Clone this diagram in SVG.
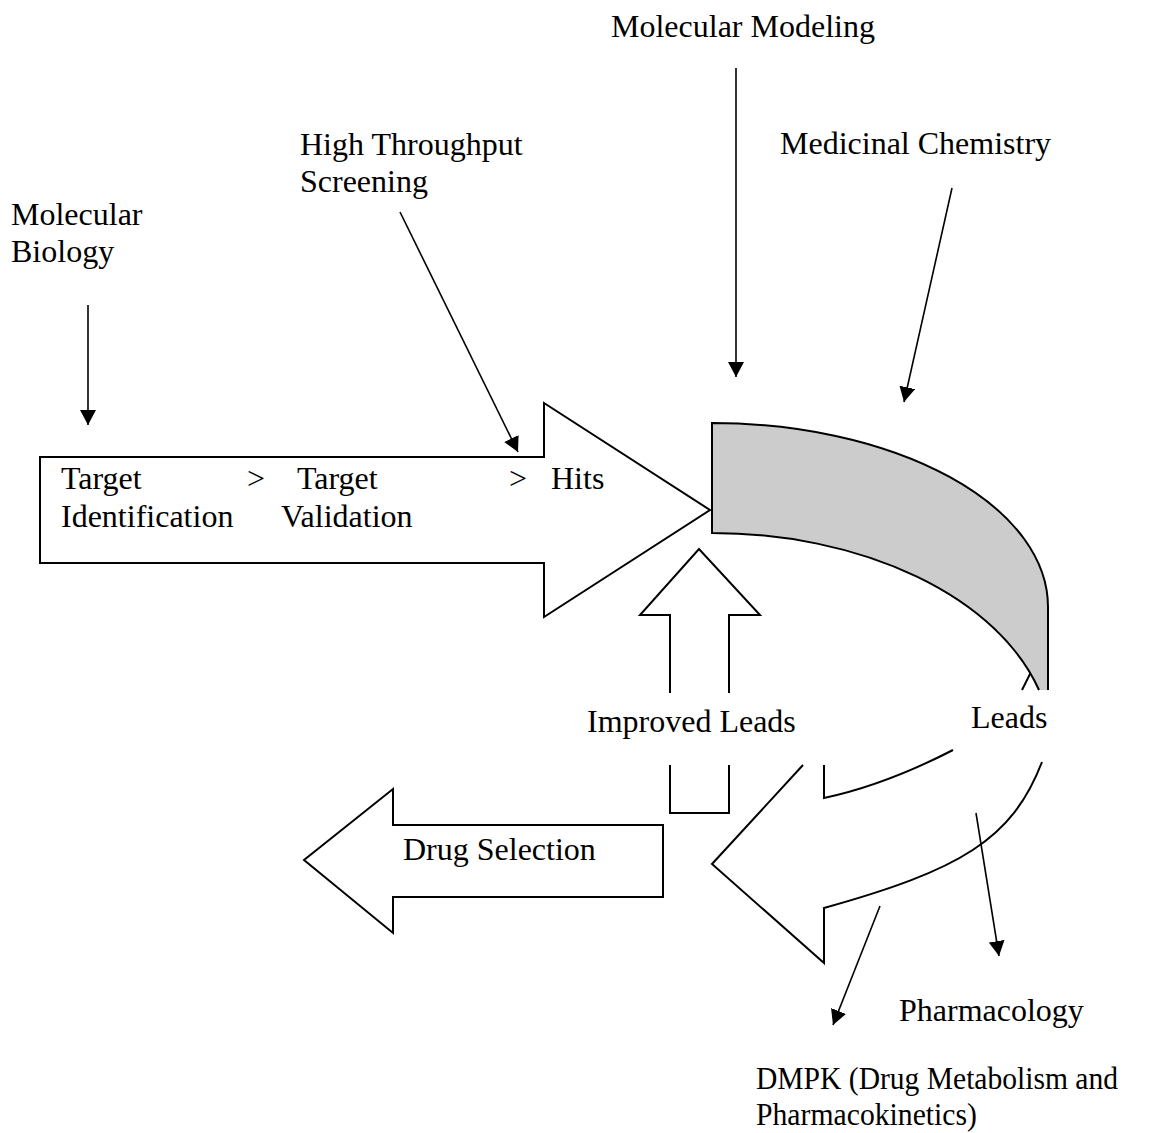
<svg xmlns="http://www.w3.org/2000/svg" width="1154" height="1133" viewBox="0 0 1154 1133">
<defs>
<style>
.t{font-family:"Liberation Serif","Times New Roman",serif;font-size:32px;fill:#000}
.s{fill:#fff;stroke:#000;stroke-width:2;stroke-linejoin:miter}
.o{fill:none;stroke:#000;stroke-width:2}
.c{fill:none;stroke:#000;stroke-width:1.6}
</style>
<marker id="ah" markerUnits="userSpaceOnUse" markerWidth="15" markerHeight="16" viewBox="0 0 15 16" refX="15" refY="8" orient="auto">
<path d="M0,0 L15,8 L0,16 z" fill="#000"/>
</marker>
</defs>
<rect width="1154" height="1133" fill="#fff"/>

<g id="main-arrow">
<polygon class="s" points="40,457 544,457 544,403 710,510 544,617 544,563 40,563"/>
<text class="t" x="61" y="489">Target</text>
<text class="t" x="61" y="527">Identification</text>
<text class="t" x="247" y="489">&gt;</text>
<text class="t" x="297" y="489">Target</text>
<text class="t" x="281" y="527">Validation</text>
<text class="t" x="509" y="489">&gt;</text>
<text class="t" x="551" y="489">Hits</text>
</g>

<g id="leads-curved-arrow">
<path class="o" d="M803,765 L712,864 L824,963 L824,908 C960,870 1012,840 1042,762"/>
<path class="o" d="M824,765 L824,798 Q885,785 953,750"/>
<path class="o" d="M1022,690 L1031,672"/>
<text class="t" x="971" y="728">Leads</text>
</g>

<g id="gray-curve">
<path d="M1048,690 L1048,607 A336,184 0 0 0 712,423 L712,533 A340,216 0 0 1 1039,690" fill="#cccccc" stroke="#000" stroke-width="2"/>
</g>

<g id="improved-leads">
<path class="o" d="M670,693 L670,615 L640,615 L699,549 L760,615 L729,615 L729,693"/>
<path class="o" d="M670,765 L670,813 L729,813 L729,765"/>
<text class="t" x="587" y="732">Improved Leads</text>
</g>

<g id="drug-selection">
<polygon class="s" points="663,825 393,825 393,789 304,860 393,933 393,897 663,897"/>
<text class="t" x="403" y="860">Drug Selection</text>
</g>

<g id="labels">
<text class="t" x="611" y="37">Molecular Modeling</text>
<text class="t" x="780" y="154">Medicinal Chemistry</text>
<text class="t" x="300" y="155">High Throughput</text>
<text class="t" x="300" y="192">Screening</text>
<text class="t" x="11" y="225">Molecular</text>
<text class="t" x="11" y="262">Biology</text>
<text class="t" x="899" y="1021">Pharmacology</text>
<text class="t" x="756" y="1089" textLength="362" lengthAdjust="spacingAndGlyphs">DMPK (Drug Metabolism and</text>
<text class="t" x="756" y="1125" textLength="221" lengthAdjust="spacingAndGlyphs">Pharmacokinetics)</text>
</g>

<g id="connectors">
<line class="c" x1="88" y1="305" x2="88" y2="425" marker-end="url(#ah)"/>
<line class="c" x1="736" y1="68" x2="736" y2="377" marker-end="url(#ah)"/>
<line class="c" x1="952" y1="188" x2="904" y2="402" marker-end="url(#ah)"/>
<line class="c" x1="400" y1="212" x2="518" y2="452" marker-end="url(#ah)"/>
<line class="c" x1="976" y1="813" x2="999" y2="956" marker-end="url(#ah)"/>
<line class="c" x1="880" y1="906" x2="833" y2="1025" marker-end="url(#ah)"/>
</g>
</svg>
